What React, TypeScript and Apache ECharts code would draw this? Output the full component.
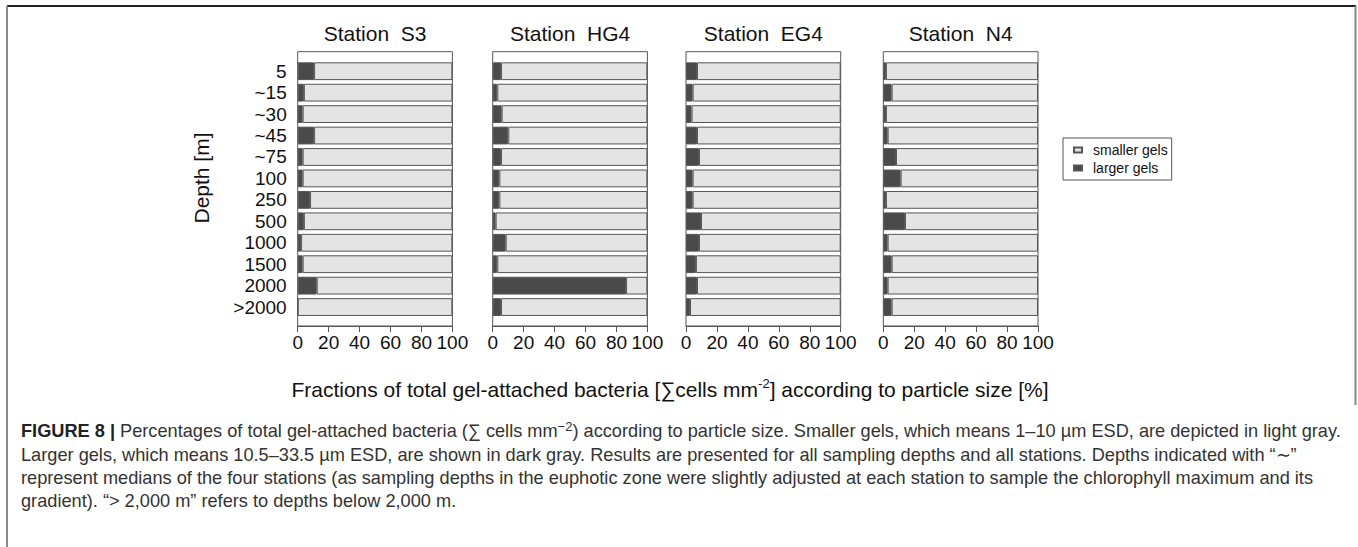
import React, { useEffect, useRef } from "react";
import * as echarts from "echarts";

const depths = ["5", "~15", "~30", "~45", "~75", "100", "250", "500", "1000", "1500", "2000", ">2000"];
const stations = ["Station  S3", "Station  HG4", "Station  EG4", "Station  N4"];
const largerS3 = [10.6, 4, 3.2, 10.6, 3.2, 3.2, 8, 4, 2.2, 3.2, 12.3, 0];
const largerHG4 = [5.4, 3, 5.8, 10.1, 5.4, 4.3, 4.3, 1.9, 8.4, 3, 86.2, 5.4];
const largerEG4 = [7.1, 4.3, 3.6, 7.1, 8.4, 4.3, 4.3, 9.7, 8.4, 6.4, 7.1, 2.6];
const largerN4 = [1.7, 5.4, 1.7, 2.8, 8.2, 11.2, 1.7, 14, 2.8, 5.4, 2.8, 5.4];
const largerAll = [largerS3, largerHG4, largerEG4, largerN4];

const FONT = "Liberation Sans, Arial, sans-serif";
const panelLeft = [297.7, 492.7, 686, 883.3];
const panelWidth = 154.7;
const gridTop = 60.5;
const gridHeight = 257.3;
const frameTop = 51.7;
const frameBottom = 326;

const captionLines = [
  "{b|FIGURE 8 |} Percentages of total gel-attached bacteria (∑ cells mm{s|−2}) according to particle size. Smaller gels, which means 1–10 µm ESD, are depicted in light gray.",
  "Larger gels, which means 10.5–33.5 µm ESD, are shown in dark gray. Results are presented for all sampling depths and all stations. Depths indicated with “∼”",
  "represent medians of the four stations (as sampling depths in the euphotic zone were slightly adjusted at each station to sample the chlorophyll maximum and its",
  "gradient). “> 2,000 m” refers to depths below 2,000 m.",
];
const captionY = [431, 455, 478, 501];

export default function App() {
  const ref = useRef<HTMLDivElement>(null);
  useEffect(() => {
    const chart = echarts.init(ref.current!, null, { renderer: "svg" });
    const grids = panelLeft.map((l) => ({ left: l, width: panelWidth, top: gridTop, height: gridHeight }));
    const xAxes = panelLeft.map((_, i) => ({
      type: "value",
      gridIndex: i,
      min: 0,
      max: 100,
      interval: 20,
      offset: frameBottom - (gridTop + gridHeight),
      splitLine: { show: false },
      axisLine: { show: true, lineStyle: { color: "#555", width: 1 } },
      axisTick: { show: true, length: 6, lineStyle: { color: "#555" } },
      axisLabel: { fontSize: 19, color: "#111", fontFamily: FONT, margin: 7, showMinLabel: true, showMaxLabel: true },
    }));
    const yAxes = panelLeft.map((_, i) => ({
      type: "category",
      gridIndex: i,
      data: depths,
      inverse: true,
      axisLine: { show: false },
      axisTick: { show: false },
      axisLabel: { show: i === 0, interval: 0, fontSize: 19, color: "#111", fontFamily: FONT, margin: 11 },
    }));
    const series: any[] = [];
    largerAll.forEach((arr, i) => {
      series.push({
        name: "larger gels",
        type: "bar",
        xAxisIndex: i,
        yAxisIndex: i,
        stack: "s" + i,
        barCategoryGap: "17%",
        data: arr,
        itemStyle: { color: "#4a4a4a", borderColor: "#555", borderWidth: 1 },
        silent: true,
      });
      series.push({
        name: "smaller gels",
        type: "bar",
        xAxisIndex: i,
        yAxisIndex: i,
        stack: "s" + i,
        barCategoryGap: "17%",
        data: arr.map((v) => +(100 - v).toFixed(1)),
        itemStyle: { color: "#e4e4e4", borderColor: "#555", borderWidth: 1 },
        silent: true,
      });
    });
    const graphic: any[] = [];
    panelLeft.forEach((l, i) => {
      graphic.push({
        type: "rect",
        shape: { x: l, y: frameTop, width: panelWidth, height: frameBottom - frameTop },
        style: { fill: "none", stroke: "#555", lineWidth: 1 },
        z: 10,
      });
      graphic.push({
        type: "text",
        x: l + panelWidth / 2,
        y: 33,
        style: { text: stations[i], fontSize: 21, fontFamily: FONT, fill: "#111", align: "center", verticalAlign: "middle" },
      });
    });
    graphic.push({
      type: "text",
      x: 201,
      y: 178,
      rotation: Math.PI / 2,
      style: { text: "Depth [m]", fontSize: 21, fontFamily: FONT, fill: "#111", align: "center", verticalAlign: "middle" },
    });
    graphic.push({
      type: "text",
      x: 670,
      y: 389,
      style: {
        text: "Fractions of total gel-attached bacteria [∑cells mm{s|-2}] according to particle size [%]",
        fontSize: 21,
        fontFamily: FONT,
        fill: "#111",
        align: "center",
        verticalAlign: "middle",
        rich: { s: { fontSize: 13, fontFamily: FONT, fill: "#111", padding: [0, 0, 12, 0] } },
      },
    });
    captionLines.forEach((t, i) => {
      graphic.push({
        type: "text",
        x: 21,
        y: captionY[i],
        style: {
          text: t,
          fontSize: 18.2,
          fontFamily: FONT,
          fill: "#333",
          align: "left",
          verticalAlign: "middle",
          rich: {
            b: { fontSize: 18.2, fontFamily: FONT, fontWeight: "bold", fill: "#222" },
            s: { fontSize: 13, fontFamily: FONT, fill: "#333", padding: [0, 0, 10, 0] },
          },
        },
      });
    });
    graphic.push({ type: "line", shape: { x1: 7, y1: 6, x2: 1356, y2: 6 }, style: { stroke: "#222", lineWidth: 2 } });
    graphic.push({ type: "line", shape: { x1: 7, y1: 6, x2: 7, y2: 547 }, style: { stroke: "#888", lineWidth: 2 } });
    graphic.push({ type: "line", shape: { x1: 1355.5, y1: 6, x2: 1355.5, y2: 405 }, style: { stroke: "#888", lineWidth: 2 } });

    chart.setOption({
      animation: false,
      backgroundColor: "#fff",
      textStyle: { fontFamily: FONT },
      grid: grids,
      xAxis: xAxes,
      yAxis: yAxes,
      legend: {
        data: ["smaller gels", "larger gels"],
        orient: "vertical",
        left: 1063,
        top: 138,
        padding: [3, 4, 3, 10],
        itemGap: 0,
        itemWidth: 8,
        itemHeight: 5,
        icon: "rect",
        borderColor: "#555",
        borderWidth: 1,
        selectedMode: false,
        textStyle: { fontSize: 14, color: "#111", fontFamily: FONT, lineHeight: 18, padding: [0, 0, 0, 6] },
      },
      series,
      graphic,
    });
    return () => chart.dispose();
  }, []);
  return <div ref={ref} style={{ position: "fixed", left: 0, top: 0, width: 1358, height: 547 }} />;
}
